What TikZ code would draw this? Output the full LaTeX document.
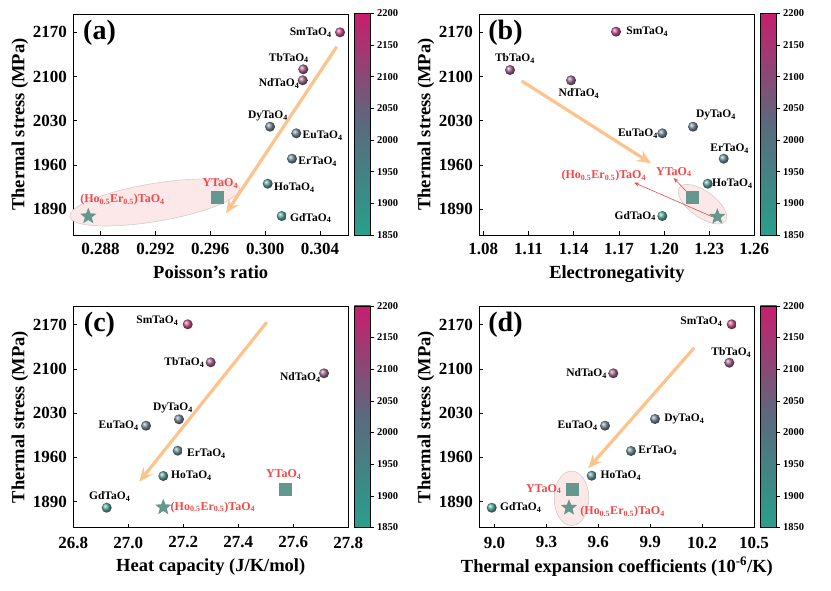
\documentclass[tikz,border=0pt]{standalone}
\usepackage{fontspec}
\setmainfont{Liberation Serif}
\usetikzlibrary{positioning}
\usetikzlibrary{arrows.meta}
\usetikzlibrary{shapes.geometric}
\definecolor{cLow}{RGB}{40,160,140}
\definecolor{cMid}{RGB}{90,106,126}
\definecolor{cHigh}{RGB}{200,30,110}
\definecolor{redtxt}{RGB}{242,72,72}
\definecolor{trendcol}{RGB}{252,196,140}
\definecolor{markcol}{RGB}{100,152,142}
\definecolor{blobfill}{RGB}{252,232,232}
\definecolor{blobdraw}{RGB}{212,204,204}

\begin{document}
\begin{tikzpicture}[x=1pt, y=-1pt,
    frame/.style={draw=black, line width=0.9pt},
    tick/.style={draw=black, line width=0.7pt},
    ticklab/.style={font=\fontsize{17}{17}\selectfont\bfseries, inner sep=0pt},
    axtitle/.style={font=\fontsize{18.5}{19}\selectfont\bfseries, inner sep=0pt},
    letter/.style={font=\fontsize{28}{28}\selectfont\bfseries, inner sep=0pt},
    cblab/.style={font=\fontsize{10.5}{11}\selectfont\bfseries, inner sep=0pt, anchor=west},
    ball/.style={circle, inner sep=0pt, minimum size=10pt, ball color=#1!82!white},
    lab/.style={font=\fontsize{11.5}{12}\selectfont\bfseries, inner sep=1pt},
    redlab/.style={lab, text=redtxt, font=\fontsize{12}{12}\selectfont\bfseries},
    sqmark/.style={rectangle, fill=markcol, minimum size=13pt, inner sep=0pt},
    starmark/.style={star, star points=5, star point ratio=2.3, fill=markcol, minimum size=17pt, inner sep=0pt},
    blob/.style={fill=blobfill, draw=blobdraw, line width=0.6pt},
    trend/.style={draw=trendcol, line width=3.2pt, -{Stealth[length=14pt, width=12pt, inset=5pt]}},
    pointer/.style={draw=redtxt, line width=0.6pt, -{Stealth[length=5pt, width=4pt]}}]

\useasboundingbox (0,0) rectangle (831,591);

% frames, y axes, colour bars and panel letters
\foreach \px/\py/\lt in {0/0/a,406/0/b,0/292.5/c,406/292.5/d}{
  \begin{scope}[shift={(\px,\py)}]
    \draw[frame] (73.3,14) rectangle (348.2,235);
    \foreach \v/\yy in {2170/32.3,2100/76.5,2030/120.7,1960/164.9,1890/209.1}{
      \draw[tick] (73.3,\yy) -- ++(4,0);
      \node[ticklab, anchor=east] (\lt-y\v) at (67,\yy) {\v};
    }
    \shade[bottom color=cLow, top color=cMid] (354.3,124.2) rectangle (370.7,235);
    \shade[bottom color=cMid, top color=cHigh] (354.3,13.3) rectangle (370.7,124.3);
    \draw[line width=0.6pt] (354.3,13.3) rectangle (370.7,235);
    \foreach \v/\yy in {2200/13.3,2150/45,2100/76.6,2050/108.3,2000/140,1950/171.6,1900/203.3,1850/235}{
      \draw[line width=0.6pt] (370.7,\yy) -- ++(3,0);
      \node[cblab] (\lt-c\v) at (377,\yy) {\v};
    }
    \node[axtitle, rotate=90] (\lt-ytitle) at (20,124.5) {Thermal stress (MPa)};
    \node[letter] (\lt-letter) at (99.5,32.5) {(\lt)};
  \end{scope}
}

% x axes
\foreach \xx/\t [count=\i] in {100.5/0.288,155.4/0.292,210.3/0.296,265.2/0.300,320.1/0.304}{
  \draw[tick] (\xx,235) -- ++(0,-4);
  \node[ticklab, anchor=north] (a-x\i) at (\xx,243) {\t};
}
\foreach \xx/\t [count=\i] in {483.3/1.08,528.5/1.11,573.7/1.14,618.9/1.17,664.1/1.20,709.3/1.23,754.2/1.26}{
  \draw[tick] (\xx,235) -- ++(0,-4);
  \node[ticklab, anchor=north] (b-x\i) at (\xx,243) {\t};
}
\foreach \xx/\t [count=\i] in {73.3/26.8,128.3/27.0,183.3/27.2,238.3/27.4,293.3/27.6,348.2/27.8}{
  \draw[tick] (\xx,527.5) -- ++(0,-4);
  \node[ticklab, anchor=north] (c-x\i) at (\xx,536.5) {\t};
}
\foreach \xx/\t [count=\i] in {494.5/9.0,546.4/9.3,598.3/9.6,650.2/9.9,702.1/10.2,754/10.5}{
  \draw[tick] (\xx,527.5) -- ++(0,-4);
  \node[ticklab, anchor=north] (d-x\i) at (\xx,536.5) {\t};
}
\node[axtitle, anchor=north] (a-xtitle) at (210.7,265) {Poisson's ratio};
\node[axtitle, anchor=north] (b-xtitle) at (616.9,265) {Electronegativity};
\node[axtitle, anchor=north] (c-xtitle) at (210.7,558.5) {Heat capacity (J/K/mol)};
\node[axtitle, anchor=north] (d-xtitle) at (616.9,557) {Thermal expansion coefficients (10\textsuperscript{-6}/K)};

% (a) Poisson's ratio
\coordinate (a-blobc) at (154.7,202.5);
\draw[blob, rotate around={9.5:(a-blobc)}] (a-blobc) ellipse [x radius=86pt, y radius=19pt];
\node[ball=cHigh!83!cMid] (a-Sm) at (340,32.3) {};
\node[lab, left=2pt of a-Sm] (a-Smlab) {SmTaO\textsubscript{4}};
\node[ball=cHigh!50!cMid] (a-Tb) at (303.3,69.3) {};
\node[lab, above=0pt of a-Tb, xshift=-14.5pt] (a-Tblab) {TbTaO\textsubscript{4}};
\node[ball=cHigh!39!cMid] (a-Nd) at (302.7,80.3) {};
\node[lab, left=-3pt of a-Nd, yshift=-3pt] (a-Ndlab) {NdTaO\textsubscript{4}};
\node[ball=cMid!98!cLow] (a-Dy) at (270,126.7) {};
\node[lab, above=-1pt of a-Dy, xshift=-2pt] (a-Dylab) {DyTaO\textsubscript{4}};
\node[ball=cMid!91!cLow] (a-Eu) at (296.3,133.3) {};
\node[lab, right=0pt of a-Eu, yshift=-2pt] (a-Eulab) {EuTaO\textsubscript{4}};
\node[ball=cMid!69!cLow] (a-Er) at (292,158.7) {};
\node[lab, right=0pt of a-Er, yshift=-3pt] (a-Erlab) {ErTaO\textsubscript{4}};
\node[ball=cMid!46!cLow] (a-Ho) at (267.7,183.7) {};
\node[lab, right=0pt of a-Ho, yshift=-4pt] (a-Holab) {HoTaO\textsubscript{4}};
\node[ball=cMid!17!cLow] (a-Gd) at (281.7,216) {};
\node[lab, right=2pt of a-Gd, yshift=-2pt] (a-Gdlab) {GdTaO\textsubscript{4}};
\node[sqmark] (a-Y) at (217.3,197.7) {};
\node[redlab, above=1.5pt of a-Y, xshift=3pt] (a-Ylab) {YTaO\textsubscript{4}};
\node[starmark] (a-HoEr) at (88.3,216.3) {};
\node[redlab] (a-HoErlab) at (122.5,200) {(Ho\textsubscript{0.5}Er\textsubscript{0.5})TaO\textsubscript{4}};
\coordinate (a-from) at (336.7,46.7);
\coordinate (a-to) at (226,213.3);
\draw[trend] (a-from) -- (a-to);

% (b) electronegativity
\coordinate (b-blobc) at (702.5,204.2);
\draw[blob, rotate around={-36:(b-blobc)}] (b-blobc) ellipse [x radius=28.5pt, y radius=13pt];
\node[ball=cHigh!83!cMid] (b-Sm) at (616,31.7) {};
\node[lab, right=4pt of b-Sm] (b-Smlab) {SmTaO\textsubscript{4}};
\node[ball=cHigh!50!cMid] (b-Tb) at (510,70) {};
\node[lab, above=0pt of b-Tb, xshift=5pt] (b-Tblab) {TbTaO\textsubscript{4}};
\node[ball=cHigh!39!cMid] (b-Nd) at (571,80.3) {};
\node[lab, below=2pt of b-Nd, xshift=8pt] (b-Ndlab) {NdTaO\textsubscript{4}};
\node[ball=cMid!98!cLow] (b-Dy) at (693,126.7) {};
\node[lab, above=0pt of b-Dy, xshift=23pt] (b-Dylab) {DyTaO\textsubscript{4}};
\node[ball=cMid!91!cLow] (b-Eu) at (662.3,133.3) {};
\node[lab, left=-2pt of b-Eu] (b-Eulab) {EuTaO\textsubscript{4}};
\node[ball=cMid!69!cLow] (b-Er) at (723.7,158.7) {};
\node[lab, above=-1pt of b-Er, xshift=6pt] (b-Erlab) {ErTaO\textsubscript{4}};
\node[ball=cMid!46!cLow] (b-Ho) at (707.7,183.7) {};
\node[lab, right=-2pt of b-Ho] (b-Holab) {HoTaO\textsubscript{4}};
\node[ball=cMid!17!cLow] (b-Gd) at (662.3,216) {};
\node[lab, left=0pt of b-Gd] (b-Gdlab) {GdTaO\textsubscript{4}};
\node[sqmark] (b-Y) at (692.7,197.7) {};
\node[redlab] (b-Ylab) at (673.8,172) {YTaO\textsubscript{4}};
\node[starmark] (b-HoEr) at (717.3,216.7) {};
\node[redlab] (b-HoErlab) at (603.8,176) {(Ho\textsubscript{0.5}Er\textsubscript{0.5})TaO\textsubscript{4}};
\draw[pointer] (b-HoEr.west) -- ([xshift=-13pt]b-HoErlab.south east);
\draw[pointer] (b-Y.north west) -- (b-Ylab.south);
\coordinate (b-from) at (521.7,81);
\coordinate (b-to) at (651,163.3);
\draw[trend] (b-from) -- (b-to);

% (c) heat capacity
\node[ball=cHigh!83!cMid] (c-Sm) at (187.7,324.3) {};
\node[lab, left=3pt of c-Sm, yshift=4pt] (c-Smlab) {SmTaO\textsubscript{4}};
\node[ball=cHigh!50!cMid] (c-Tb) at (210.7,362.3) {};
\node[lab, left=0pt of c-Tb] (c-Tblab) {TbTaO\textsubscript{4}};
\node[ball=cHigh!39!cMid] (c-Nd) at (324,373.3) {};
\node[lab, left=-3pt of c-Nd, yshift=-4pt] (c-Ndlab) {NdTaO\textsubscript{4}};
\node[ball=cMid!98!cLow] (c-Dy) at (179,419.3) {};
\node[lab, above=0pt of c-Dy, xshift=-6pt] (c-Dylab) {DyTaO\textsubscript{4}};
\node[ball=cMid!91!cLow] (c-Eu) at (146,425.7) {};
\node[lab, left=1pt of c-Eu] (c-Eulab) {EuTaO\textsubscript{4}};
\node[ball=cMid!69!cLow] (c-Er) at (177.7,450.7) {};
\node[lab, right=3pt of c-Er, yshift=-3pt] (c-Erlab) {ErTaO\textsubscript{4}};
\node[ball=cMid!46!cLow] (c-Ho) at (163.3,476) {};
\node[lab, right=1.5pt of c-Ho] (c-Holab) {HoTaO\textsubscript{4}};
\node[ball=cMid!17!cLow] (c-Gd) at (106.7,507.7) {};
\node[lab, above=0pt of c-Gd, xshift=3pt] (c-Gdlab) {GdTaO\textsubscript{4}};
\node[sqmark] (c-Y) at (285.7,489) {};
\node[redlab, above=2pt of c-Y, xshift=-2pt] (c-Ylab) {YTaO\textsubscript{4}};
\node[starmark] (c-HoEr) at (163.3,507.3) {};
\node[redlab, right=1pt of c-HoEr] (c-HoErlab) {(Ho\textsubscript{0.5}Er\textsubscript{0.5})TaO\textsubscript{4}};
\coordinate (c-from) at (266.7,322.3);
\coordinate (c-to) at (139.3,481.7);
\draw[trend] (c-from) -- (c-to);

% (d) thermal expansion
\coordinate (d-blobc) at (571.5,498.3);
\draw[blob] (d-blobc) ellipse [x radius=17.3pt, y radius=27.3pt];
\node[ball=cHigh!83!cMid] (d-Sm) at (731.7,324.3) {};
\node[lab, left=3pt of d-Sm, yshift=3pt] (d-Smlab) {SmTaO\textsubscript{4}};
\node[ball=cHigh!50!cMid] (d-Tb) at (729.3,362.7) {};
\node[lab, above=-1pt of d-Tb, xshift=2pt] (d-Tblab) {TbTaO\textsubscript{4}};
\node[ball=cHigh!39!cMid] (d-Nd) at (613.3,373.3) {};
\node[lab, left=0pt of d-Nd] (d-Ndlab) {NdTaO\textsubscript{4}};
\node[ball=cMid!98!cLow] (d-Dy) at (655,419) {};
\node[lab, right=3pt of d-Dy] (d-Dylab) {DyTaO\textsubscript{4}};
\node[ball=cMid!91!cLow] (d-Eu) at (605,425.7) {};
\node[lab, left=1pt of d-Eu] (d-Eulab) {EuTaO\textsubscript{4}};
\node[ball=cMid!69!cLow] (d-Er) at (631,451) {};
\node[lab, right=1pt of d-Er] (d-Erlab) {ErTaO\textsubscript{4}};
\node[ball=cMid!46!cLow] (d-Ho) at (591.7,475.7) {};
\node[lab, right=2.5pt of d-Ho] (d-Holab) {HoTaO\textsubscript{4}};
\node[ball=cMid!17!cLow] (d-Gd) at (491.7,507.7) {};
\node[lab, right=2pt of d-Gd] (d-Gdlab) {GdTaO\textsubscript{4}};
\node[sqmark] (d-Y) at (572.3,489) {};
\node[redlab, left=3pt of d-Y] (d-Ylab) {YTaO\textsubscript{4}};
\node[starmark] (d-HoEr) at (569,507.7) {};
\node[redlab, right=5pt of d-HoEr, yshift=-4pt] (d-HoErlab) {(Ho\textsubscript{0.5}Er\textsubscript{0.5})TaO\textsubscript{4}};
\coordinate (d-from) at (694.3,347.7);
\coordinate (d-to) at (588.3,468.3);
\draw[trend] (d-from) -- (d-to);
\end{tikzpicture}
\end{document}
